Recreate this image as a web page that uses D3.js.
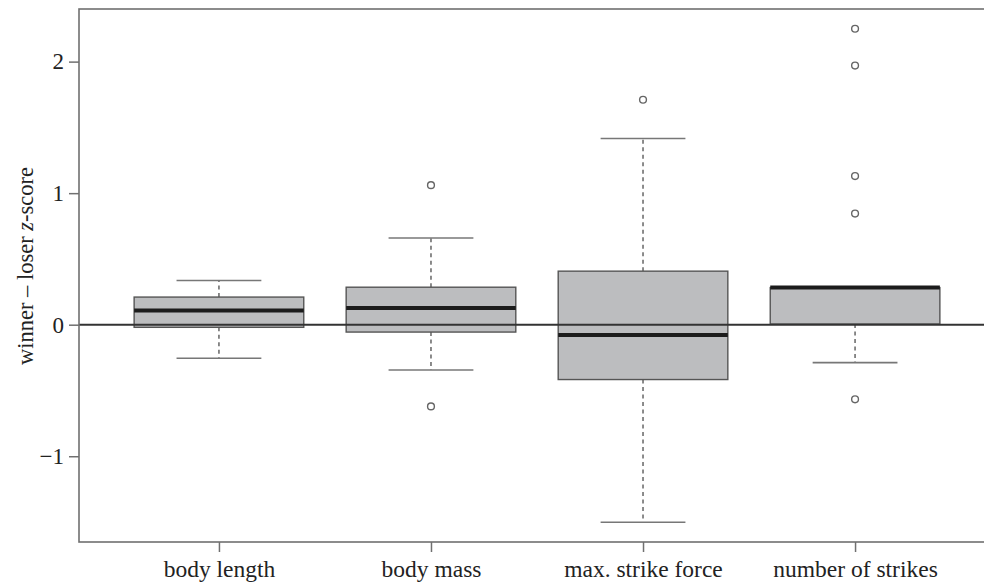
<!DOCTYPE html>
<html>
<head>
<meta charset="utf-8">
<script src="https://cdn.jsdelivr.net/npm/d3@7"></script>
<style>
  html, body { margin: 0; padding: 0; background: #fff; }
  svg { display: block; font-family: "Liberation Serif", "DejaVu Serif", serif; }
  svg text { font-family: "Liberation Serif", "DejaVu Serif", serif; }
</style>
</head>
<body>
<svg id="chart" width="984" height="582"></svg>
<script>
const categories = ["body length", "body mass", "max. strike force", "number of strikes"];
const lowerWhisker = [-0.255, -0.344, -1.502, -0.288];
const q1 = [-0.020, -0.056, -0.417, 0.005];
const median = [0.107, 0.127, -0.079, 0.282];
const q3 = [0.210, 0.285, 0.407, 0.282];
const upperWhisker = [0.336, 0.659, 1.415, 0.282];
const outliers = [[], [1.061, -0.621], [1.71], [2.25, 1.97, 1.13, 0.845, -0.567]];
const yTicks = [-1, 0, 1, 2];
const yTickLabels = ["\u22121", "0", "1", "2"];

const svg = d3.select("#chart");
const x = d3.scaleLinear().domain([0.34, 4.66]).range([79, 995]);
const y = d3.scaleLinear().domain([-1.652, 2.40]).range([542, 9]);
const boxHalf = 0.4, capHalf = 0.2;

const data = categories.map((c, i) => ({
  i: i + 1, c, lo: lowerWhisker[i], q1: q1[i], med: median[i], q3: q3[i], hi: upperWhisker[i], out: outliers[i]
}));

const g = svg.append("g");

data.forEach(d => {
  if (d.hi > d.q3) g.append("line").attr("x1", x(d.i)).attr("x2", x(d.i)).attr("y1", y(d.q3)).attr("y2", y(d.hi))
    .attr("stroke", "#666").attr("stroke-width", 1.5).attr("stroke-dasharray", "4,3.5");
  if (d.lo < d.q1) g.append("line").attr("x1", x(d.i)).attr("x2", x(d.i)).attr("y1", y(d.q1)).attr("y2", y(d.lo))
    .attr("stroke", "#666").attr("stroke-width", 1.5).attr("stroke-dasharray", "4,3.5");
  [d.lo, d.hi].forEach(v => {
    g.append("line").attr("x1", x(d.i - capHalf)).attr("x2", x(d.i + capHalf)).attr("y1", y(v)).attr("y2", y(v))
      .attr("stroke", "#777").attr("stroke-width", 1.6);
  });
  g.append("rect").attr("x", x(d.i - boxHalf)).attr("width", x(d.i + boxHalf) - x(d.i - boxHalf))
    .attr("y", y(d.q3)).attr("height", Math.max(0, y(d.q1) - y(d.q3)))
    .attr("fill", "#bcbdbf").attr("stroke", "#555").attr("stroke-width", 1.4);
  g.append("line").attr("x1", x(d.i - boxHalf)).attr("x2", x(d.i + boxHalf)).attr("y1", y(d.med)).attr("y2", y(d.med))
    .attr("stroke", "#1c1c1c").attr("stroke-width", 4);
  d.out.forEach(v => {
    g.append("circle").attr("cx", x(d.i)).attr("cy", y(v)).attr("r", 3.4)
      .attr("fill", "#fff").attr("stroke", "#666").attr("stroke-width", 1.4);
  });
});

svg.append("line").attr("x1", x(0.34)).attr("x2", x(4.66)).attr("y1", y(0)).attr("y2", y(0))
  .attr("stroke", "#333").attr("stroke-width", 2);

svg.append("rect").attr("x", x(0.34)).attr("y", y(2.40)).attr("width", x(4.66) - x(0.34)).attr("height", y(-1.652) - y(2.40))
  .attr("fill", "none").attr("stroke", "#707070").attr("stroke-width", 1.6);

const yAxis = d3.axisLeft(y).tickValues(yTicks).tickSize(10).tickPadding(5)
  .tickFormat((d, i) => yTickLabels[i]);
const ya = svg.append("g").attr("transform", `translate(${x(0.34)},0)`).call(yAxis)
  .attr("font-family", null).attr("font-size", null);
ya.select(".domain").remove();
ya.selectAll(".tick line").attr("stroke", "#707070").attr("stroke-width", 1.5);
ya.selectAll(".tick text").attr("fill", "#222").style("font-size", "23px");

const xAxis = d3.axisBottom(x).tickValues([1, 2, 3, 4]).tickSize(10).tickPadding(8)
  .tickFormat((d) => categories[d - 1]);
const xa = svg.append("g").attr("transform", `translate(0,${y(-1.652)})`).call(xAxis)
  .attr("font-family", null).attr("font-size", null);
xa.select(".domain").remove();
xa.selectAll(".tick line").attr("stroke", "#707070").attr("stroke-width", 1.5);
xa.selectAll(".tick text").attr("fill", "#222").style("font-size", "23.5px");

const lab = svg.append("text").attr("transform", `translate(33,266) rotate(-90)`)
  .attr("text-anchor", "middle").attr("fill", "#222").style("font-size", "22.5px");
lab.append("tspan").text("winner \u2013 loser ");
lab.append("tspan").attr("font-style", "italic").text("z");
lab.append("tspan").text("-score");
</script>
</body>
</html>
